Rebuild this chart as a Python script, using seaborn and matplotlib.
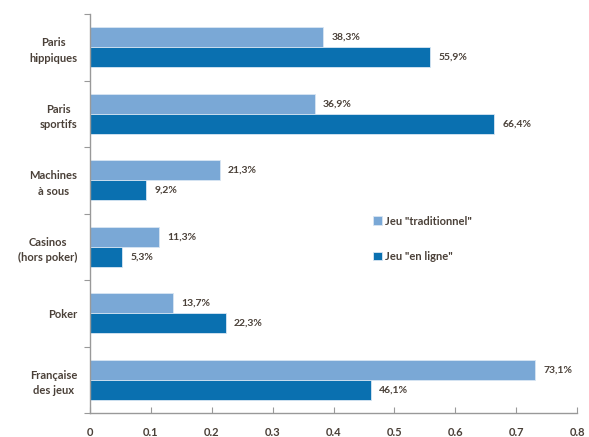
import matplotlib
matplotlib.use('Agg')
import matplotlib.pyplot as plt
import matplotlib.ticker as mticker
import seaborn as sns
import pandas as pd
import numpy as np

# Données
categories = ['Paris\nhippiques', 'Paris\nsportifs', 'Machines\nà sous',
              'Casinos\n(hors poker)', 'Poker', 'Française\ndes jeux']
traditionnel = [0.383, 0.369, 0.213, 0.113, 0.137, 0.731]
en_ligne = [0.559, 0.664, 0.092, 0.053, 0.223, 0.461]
series = ['Jeu "traditionnel"', 'Jeu "en ligne"']
x_ticks = [0, 0.1, 0.2, 0.3, 0.4, 0.5, 0.6, 0.7, 0.8]

df = pd.DataFrame({
    'categorie': categories * 2,
    'valeur': traditionnel + en_ligne,
    'serie': [series[0]] * len(categories) + [series[1]] * len(categories),
})

sns.set_style('white')
plt.rcParams['font.family'] = ['Lato', 'DejaVu Sans']
colors = ['#7AA8D6', '#0A70B0']
text_color = '#4a4038'

fig = plt.figure(figsize=(5.89, 4.37), dpi=100)
ax = fig.add_axes([90 / 589, 1 - 413 / 437, (577 - 90) / 589, (413 - 14) / 437])

sns.barplot(data=df, y='categorie', x='valeur', hue='serie', order=categories,
            hue_order=series, palette=colors, saturation=1, orient='h', width=0.6,
            edgecolor='#d8e6f3', linewidth=0.6, ax=ax)

# étiquettes de valeur
for container in ax.containers:
    labels = [f'{w:.1%}'.replace('.', ',') for w in container.datavalues]
    ax.bar_label(container, labels=labels, padding=6, fontsize=7.5,
                 fontweight='bold', color=text_color)

ax.set_xlim(0, 0.8)
ax.set_ylim(len(categories) - 0.5, -0.5)
ax.set_xticks(x_ticks)
ax.xaxis.set_major_formatter(mticker.FuncFormatter(lambda v, p: f'{v:g}'))
ax.tick_params(axis='x', bottom=True, direction='in', length=4, color='#999999',
               labelsize=8, labelcolor=text_color, pad=10)
for lab in ax.get_xticklabels():
    lab.set_fontweight('bold')

# ticks aux limites des groupes, libellés au centre
ax.set_yticks(np.arange(-0.5, len(categories)), labels=[''] * (len(categories) + 1))
ax.set_yticks(np.arange(len(categories)), labels=categories, minor=True)
ax.tick_params(axis='y', which='major', left=True, direction='out', length=4,
               color='#999999')
ax.tick_params(axis='y', which='minor', left=True, length=0, labelsize=8,
               labelcolor=text_color, pad=9)
for lab in ax.get_yticklabels(minor=True):
    lab.set_fontweight('bold')
    lab.set_multialignment('center')
    lab.set_linespacing(1.5)

ax.set_xlabel('')
ax.set_ylabel('')
for side in ['top', 'right']:
    ax.spines[side].set_visible(False)
for side in ['left', 'bottom']:
    ax.spines[side].set_color('#999999')
    ax.spines[side].set_linewidth(1)

leg = ax.legend(loc='upper left', bbox_to_anchor=(0.56, 0.52), frameon=False,
                handlelength=0.8, handleheight=0.8, handletextpad=0.3,
                labelspacing=2.2, prop={'size': 8, 'weight': 'bold'})
for t in leg.get_texts():
    t.set_color(text_color)

fig.savefig('out.png', dpi=100)
